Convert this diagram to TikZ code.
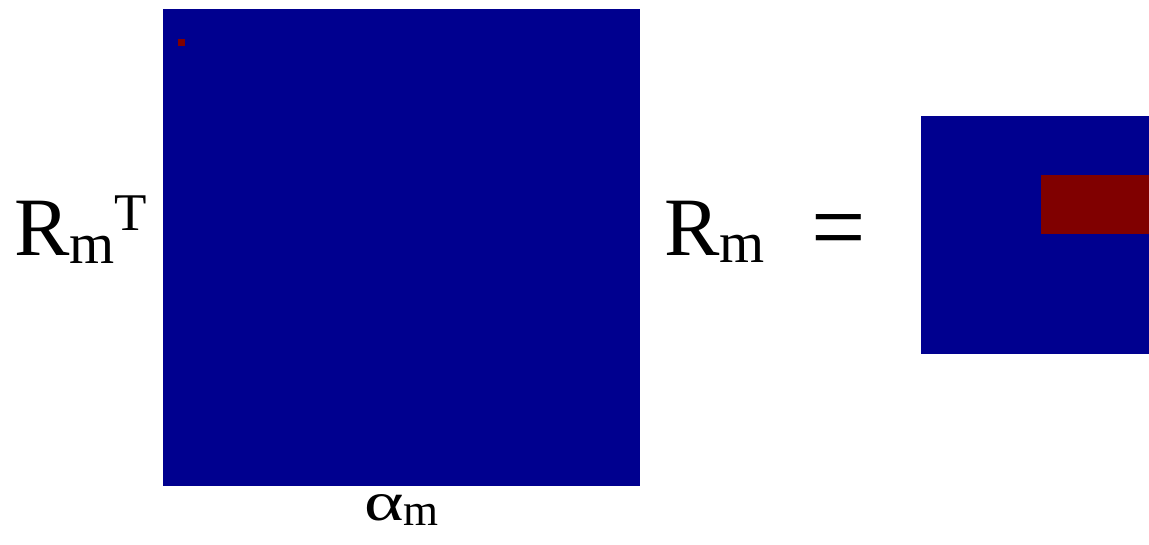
\documentclass[tikz,border=0pt]{standalone}
\usepackage{fontspec}
\setmainfont{Liberation Serif}
\usepackage{graphicx}
\definecolor{jetblue}{RGB}{0,0,143}
\definecolor{jetred}{RGB}{128,0,0}
\newcommand{\fs}[1]{\fontsize{#1}{#1}\selectfont}

\begin{document}
\begin{tikzpicture}[x=1pt,y=-1pt]
  \useasboundingbox (0,0) rectangle (1149,544);
  \tikzset{lbl/.style={anchor=base west,inner sep=0pt,font=\fs{83}}}
  % full matrix
  \fill[jetblue] (163,9) rectangle (640,486);
  \fill[jetred] (178,39) rectangle (185,46);
  % restricted matrix
  \fill[jetblue] (921,116) rectangle (1149,354);
  \fill[jetred] (1041,175) rectangle (1149,234);
  \node[lbl] (rmt) at (14,255) {R\raisebox{-8pt}{\fs{58}m}\raisebox{25pt}{\fs{53}T}};
  \node[lbl] (rm) at (664,255) {R\raisebox{-7pt}{\fs{58}m}};
  \node[lbl] (eq) at (811,262) {\scalebox{1.15}[1.25]{\fs{84}=}};
  \node[lbl] (am) at (364,520) {\scalebox{1.3}[0.95]{\fs{58}α}\raisebox{-5pt}{\fs{45}m}};
\end{tikzpicture}
\end{document}
